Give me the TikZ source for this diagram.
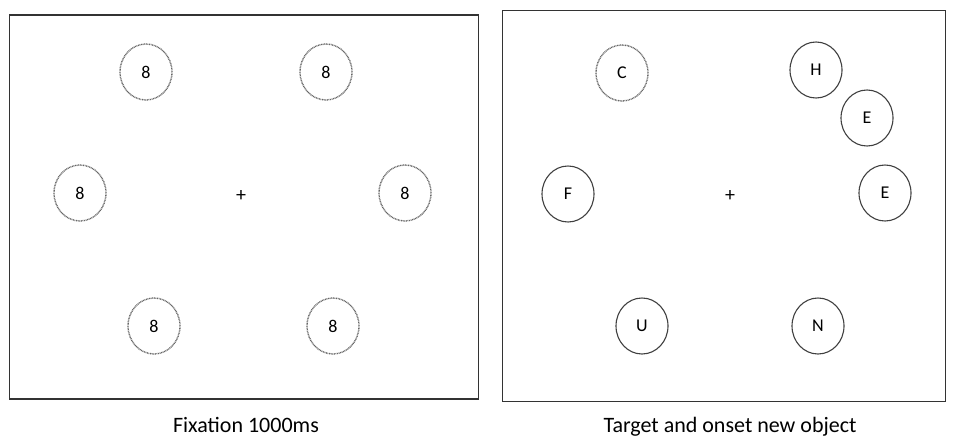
\documentclass[tikz,border=0pt]{standalone}
\usepackage{fontspec}
\setmainfont{Carlito}
\usetikzlibrary{shapes.geometric}

\tikzset{
	item/.style={ellipse, draw=black!75, line width=1.1pt, minimum width=52pt, minimum height=56pt, inner sep=0pt, font=\fontsize{18}{21}\selectfont},
	mask/.style={item, draw=black!60, dash pattern=on 0.9pt off 0.7pt, line width=1.4pt},
	panel/.style={draw=black!80, line width=1.6pt},
	caption/.style={font=\fontsize{22}{26}\selectfont}
}

\begin{document}
\begin{tikzpicture}[x=1pt, y=-1pt]
	\useasboundingbox (0,0) rectangle (953,444);
	%% left panel: fixation
	\node[panel, minimum width=469pt, minimum height=384pt] (fixbox) at (244,207) {};
	\node[mask] (fixA) at (146,72) {8};
	\node[mask] (fixB) at (326,72) {8};
	\node[mask] (fixC) at (80,193) {8};
	\node[mask] (fixD) at (405,193) {8};
	\node[mask] (fixE) at (154,326) {8};
	\node[mask] (fixF) at (333,326) {8};
	\node[font=\fontsize{20}{22}\selectfont] (fixcross) at (241,196) {+};
	\node[caption] (fixlabel) at (246,425) {Fixation 1000ms};
	%
	%% right panel: target and onset
	\node[panel, minimum width=443pt, minimum height=391pt] (tgtbox) at (724,206) {};
	\node[mask] (tgtC) at (622,73) {C};
	\node[item] (tgtH) at (816,70) {H};
	\node[item] (tgtEa) at (867,118) {E};
	\node[item] (tgtF) at (568,194) {F};
	\node[item] (tgtEb) at (885,193) {E};
	\node[item] (tgtU) at (642,326) {U};
	\node[item] (tgtN) at (818,326) {N};
	\node[font=\fontsize{20}{22}\selectfont] (tgtcross) at (730,196) {+};
	\node[caption] (tgtlabel) at (730,427) {Target and onset new object};
\end{tikzpicture}
\end{document}
